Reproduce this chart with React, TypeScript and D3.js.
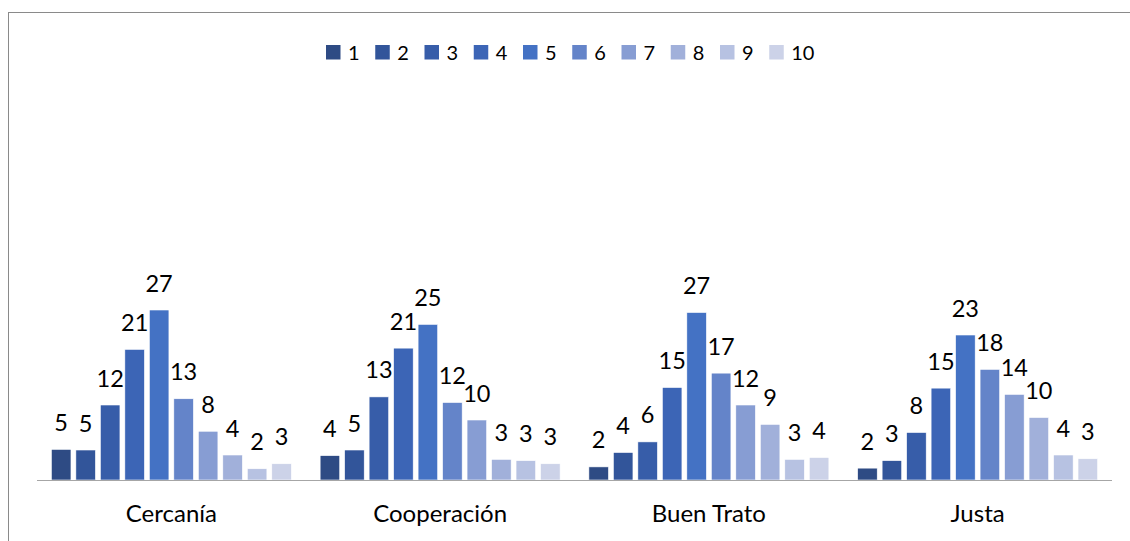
import React from "react";
import * as d3 from "d3";

const categories = ["Cercanía", "Cooperación", "Buen Trato", "Justa"];
const seriesNames = ["1", "2", "3", "4", "5", "6", "7", "8", "9", "10"];
const colors = ["#2E4B84", "#32559A", "#375DA9", "#3C65B6", "#4472C4", "#6484C9", "#879DD3", "#A1B0DA", "#B7C2E2", "#CCD2E8"];
// values per category, one entry per series 1..10
const cercania = [4.9, 4.8, 12.0, 20.9, 27.2, 13.0, 7.8, 4.0, 1.8, 2.6];
const cooperacion = [3.9, 4.8, 13.3, 21.1, 24.9, 12.4, 9.6, 3.3, 3.1, 2.6];
const buenTrato = [2.1, 4.4, 6.1, 14.8, 26.8, 17.1, 12.0, 8.9, 3.3, 3.6];
const justa = [1.9, 3.1, 7.6, 14.7, 23.2, 17.7, 13.7, 10.0, 4.0, 3.4];
const values = [cercania, cooperacion, buenTrato, justa];

const W = 1130;
const H = 541;
const FONT = "Lato, 'Open Sans', sans-serif";

export default function App() {
  const x0 = d3
    .scaleBand<string>()
    .domain(categories)
    .range([37, 1112])
    .paddingInner(0.107)
    .paddingOuter(0.0535);
  const x1 = d3
    .scaleBand<string>()
    .domain(seriesNames)
    .range([0, x0.bandwidth()])
    .paddingInner(0.2)
    .paddingOuter(0);
  const y = d3.scaleLinear().domain([0, 30]).range([480, 480 - 30 * 6.25]);

  const legendStep = 49.25;
  const legendX0 = 326;

  return (
    <div style={{ position: "absolute", left: 0, top: 0 }}>
      <svg width={W} height={H} style={{ display: "block", background: "#fff" }}>
        <rect x={8.5} y={12.5} width={1200} height={600} fill="#fff" stroke="#8A8A8A" strokeWidth={1} />
        {/* legend */}
        {seriesNames.map((s, i) => (
          <g key={s} transform={`translate(${legendX0 + i * legendStep},45)`}>
            <rect x={0} y={0} width={14.5} height={14.5} fill={colors[i]} />
            <text x={22} y={14.8} fontFamily={FONT} fontSize={20} fill="#000">
              {s}
            </text>
          </g>
        ))}
        {/* bars */}
        {categories.map((c, ci) => (
          <g key={c} transform={`translate(${x0(c)},0)`}>
            {seriesNames.map((s, si) => {
              const v = values[ci][si];
              return (
                <g key={s}>
                  <rect
                    x={x1(s)}
                    y={y(v)}
                    width={x1.bandwidth()}
                    height={y(0) - y(v)}
                    fill={colors[si]}
                    stroke="#ffffff"
                    strokeWidth={0.6}
                  />
                  <text
                    x={(x1(s) as number) + x1.bandwidth() / 2}
                    y={y(v) - 18.5}
                    textAnchor="middle"
                    fontFamily={FONT}
                    fontSize={23.5}
                    fill="#000"
                  >
                    {Math.round(v)}
                  </text>
                </g>
              );
            })}
          </g>
        ))}
        {/* baseline */}
        <line x1={37} x2={1112} y1={480.5} y2={480.5} stroke="#A6A6A6" strokeWidth={1} />
        {/* category labels */}
        {categories.map((c) => (
          <text
            key={c}
            x={(x0(c) as number) + x0.bandwidth() / 2}
            y={522}
            textAnchor="middle"
            fontFamily={FONT}
            fontSize={24}
            fill="#000"
          >
            {c}
          </text>
        ))}
      </svg>
    </div>
  );
}
